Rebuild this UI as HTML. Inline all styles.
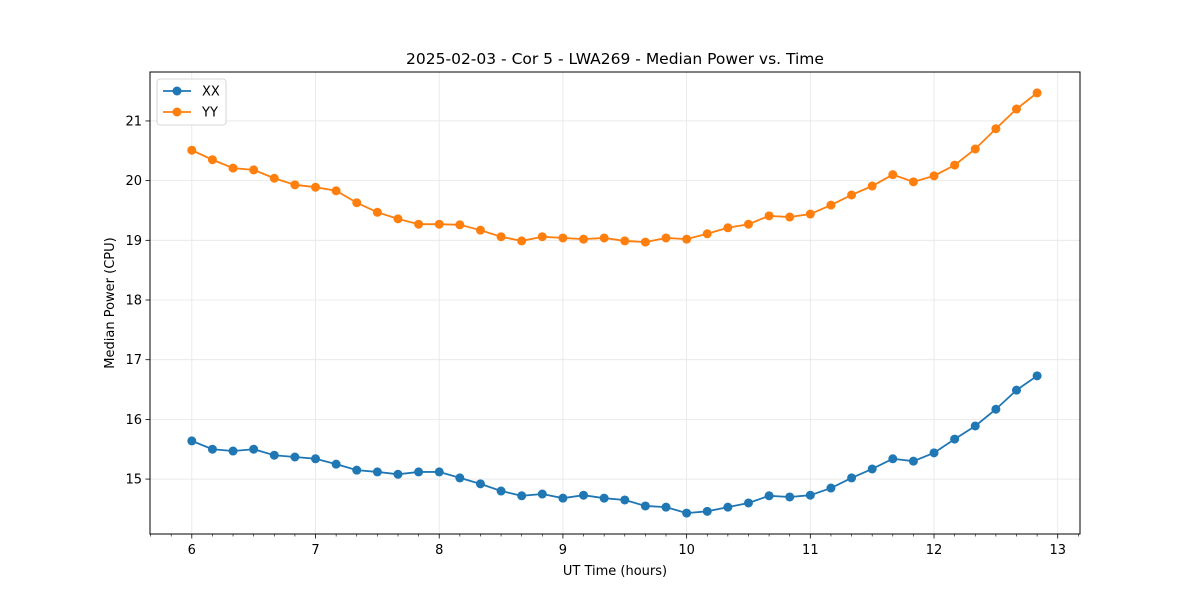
<!DOCTYPE html>
<html><head><meta charset="utf-8"><style>
body{margin:0;background:#fff}
svg text{font-family:"DejaVu Sans","Liberation Sans",sans-serif;}
</style></head><body>
<svg id="c" width="1200" height="600" xmlns="http://www.w3.org/2000/svg"></svg>
<script>
const xxValues=[15.64,15.50,15.47,15.50,15.40,15.37,15.34,15.25,15.15,15.12,15.08,15.12,15.12,15.02,14.92,14.80,14.72,14.75,14.68,14.73,14.68,14.65,14.55,14.53,14.43,14.46,14.53,14.60,14.72,14.70,14.73,14.85,15.02,15.17,15.34,15.30,15.44,15.67,15.89,16.17,16.49,16.73];
const yyValues=[20.51,20.35,20.21,20.18,20.04,19.93,19.89,19.83,19.63,19.47,19.36,19.27,19.27,19.26,19.17,19.06,18.99,19.06,19.04,19.02,19.04,18.99,18.97,19.04,19.02,19.11,19.21,19.27,19.41,19.39,19.44,19.59,19.76,19.91,20.10,19.98,20.08,20.26,20.53,20.87,21.20,21.47];
const xTicks=[6,7,8,9,10,11,12,13];
const yTicks=[15,16,17,18,19,20,21];
const times=xxValues.map((_,i)=>6+i/6);
const L=150,R=1080,T=72,B=534,x0=5.662,x1=13.18,y0=14.08,y1=21.82;
const X=v=>L+(v-x0)/(x1-x0)*(R-L);
const Y=v=>B-(v-y0)/(y1-y0)*(B-T);
const svg=document.getElementById('c');
const NS='http://www.w3.org/2000/svg';
function mk(tag,attrs,parent){const e=document.createElementNS(NS,tag);for(const k in attrs)e.setAttribute(k,attrs[k]);(parent||svg).appendChild(e);return e;}
const grid=mk('g',{});


xTicks.forEach(t=>{
  mk('line',{x1:X(t),x2:X(t),y1:T,y2:B,stroke:'#e6e6e6','stroke-width':0.8},grid);
  const tk=mk('line',{x1:X(t),x2:X(t),y1:B,y2:B+4.5,stroke:'#000','stroke-width':0.8});
  
  
  const tx=mk('text',{x:X(t),y:B+20,'text-anchor':'middle','font-size':13});
  tx.textContent=t;
  
  
});
for(let m=Math.ceil(x0*6);m<=x1*6;m++){if(m%6===0)continue;mk('line',{x1:X(m/6),x2:X(m/6),y1:B,y2:B+2.5,stroke:'#000','stroke-width':0.6});}
yTicks.forEach(t=>{
  mk('line',{x1:L,x2:R,y1:Y(t),y2:Y(t),stroke:'#e6e6e6','stroke-width':0.8},grid);
  mk('line',{x1:L-4.5,x2:L,y1:Y(t),y2:Y(t),stroke:'#000','stroke-width':0.8});
  const tx=mk('text',{x:L-8,y:Y(t)+4.5,'text-anchor':'end','font-size':13});
  tx.textContent=t;
  
  
});
function series(vals,color,name){
  const g=mk('g',{});
  
  
  mk('polyline',{points:vals.map((v,i)=>X(times[i])+','+Y(v)).join(' '),fill:'none',stroke:color,'stroke-width':1.8},g);
  vals.forEach((v,i)=>{const c=mk('circle',{cx:X(times[i]),cy:Y(v),r:4.5,fill:color},g);
    
    });
}
series(xxValues,'#1f77b4','series-xx');
series(yyValues,'#ff7f0e','series-yy');
const fr=mk('rect',{x:L,y:T,width:R-L,height:B-T,fill:'none',stroke:'#000','stroke-width':1});


const title=mk('text',{x:(L+R)/2,y:64,'text-anchor':'middle','font-size':15.5});
title.textContent='2025-02-03 - Cor 5 - LWA269 - Median Power vs. Time';


const xl=mk('text',{x:(L+R)/2,y:575,'text-anchor':'middle','font-size':13});
xl.textContent='UT Time (hours)';


const yl=mk('text',{x:0,y:0,'text-anchor':'middle','font-size':13,transform:'translate(114,'+((T+B)/2)+') rotate(-90)'});
yl.textContent='Median Power (CPU)';


const lg=mk('g',{});


mk('rect',{x:157,y:79,width:69,height:46,rx:3,fill:'#fff',stroke:'#ccc','stroke-width':0.8},lg);
[['XX','#1f77b4',91],['YY','#ff7f0e',112]].forEach(([n,c,y])=>{
  const e=mk('g',{},lg);
  
  
  mk('line',{x1:163,x2:191,y1:y,y2:y,stroke:c,'stroke-width':1.8},e);
  mk('circle',{cx:177,cy:y,r:4.5,fill:c},e);
  const t=mk('text',{x:202,y:y+4.5,'font-size':13},e);t.textContent=n;
});
</script>
</body></html>
